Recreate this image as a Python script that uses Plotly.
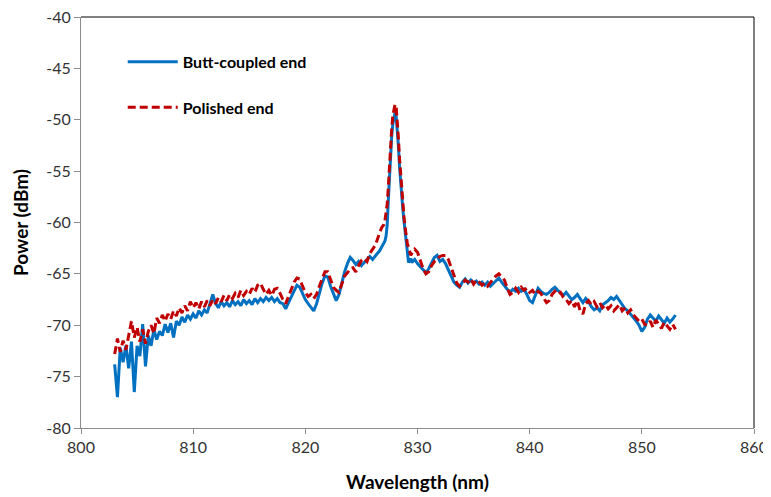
import plotly.graph_objects as go

# Wavelength grid (nm)
wl_a = [803.00, 803.25, 803.50, 803.75, 804.00, 804.25, 804.50, 804.75, 805.00, 805.25,
        805.50, 805.75, 806.00, 806.25, 806.50, 806.75, 807.00, 807.25, 807.50, 807.75,
        808.00, 808.25, 808.50, 808.75, 809.00, 809.25, 809.50, 809.75, 810.00, 810.25,
        810.50, 810.75, 811.00, 811.25, 811.50, 811.75, 812.00, 812.25, 812.50, 812.75,
        813.00, 813.25, 813.50, 813.75, 814.00, 814.25, 814.50, 814.75, 815.00, 815.25,
        815.50, 815.75, 816.00, 816.25, 816.50, 816.75, 817.00, 817.25, 817.50, 817.75,
        818.00, 818.25, 818.50, 818.75, 819.00, 819.25, 819.50, 819.75, 820.00, 820.25,
        820.50, 820.75, 821.00, 821.25, 821.50, 821.75, 822.00, 822.25, 822.50, 822.75,
        823.00, 823.25, 823.50, 823.75, 824.00, 824.25, 824.50, 824.75, 825.00, 825.25,
        825.50, 825.75, 826.00, 826.25, 826.50]
wl_b = [826.6, 826.7, 826.8, 826.9, 827.0, 827.1, 827.2, 827.3, 827.4, 827.5,
        827.6, 827.7, 827.8, 827.9, 828.0, 828.1, 828.2, 828.3, 828.4, 828.5,
        828.6, 828.7, 828.8, 828.9, 829.0, 829.1, 829.2, 829.3, 829.4, 829.5]
wl_c = [829.75, 830.00, 830.25, 830.50, 830.75, 831.00, 831.25, 831.50, 831.75, 832.00,
        832.25, 832.50, 832.75, 833.00, 833.25, 833.50, 833.75, 834.00, 834.25, 834.50,
        834.75, 835.00, 835.25, 835.50, 835.75, 836.00, 836.25, 836.50, 836.75, 837.00,
        837.25, 837.50, 837.75, 838.00, 838.25, 838.50, 838.75, 839.00, 839.25, 839.50,
        839.75, 840.00, 840.25, 840.50, 840.75, 841.00, 841.25, 841.50, 841.75, 842.00,
        842.25, 842.50, 842.75, 843.00, 843.25, 843.50, 843.75, 844.00, 844.25, 844.50,
        844.75, 845.00, 845.25, 845.50, 845.75, 846.00, 846.25, 846.50, 846.75, 847.00,
        847.25, 847.50, 847.75, 848.00, 848.25, 848.50, 848.75, 849.00, 849.25, 849.50,
        849.75, 850.00, 850.25, 850.50, 850.75, 851.00, 851.25, 851.50, 851.75, 852.00,
        852.25, 852.50, 852.75, 853.00]
wavelength = wl_a + wl_b + wl_c

# Butt-coupled end (dBm)
butt_a = [-73.8, -77.0, -72.2, -73.6, -72.0, -74.2, -71.6, -76.5, -72.0, -73.0,
          -69.9, -74.0, -71.0, -72.0, -70.4, -71.4, -70.6, -71.0, -69.9, -70.7,
          -69.8, -71.2, -69.6, -70.0, -69.2, -69.7, -69.0, -69.4, -68.9, -69.3,
          -68.6, -69.0, -68.5, -68.8, -67.9, -67.0, -67.9, -68.3, -67.7, -68.1,
          -67.8, -68.2, -67.6, -68.0, -67.7, -68.1, -67.5, -67.9, -67.6, -68.0,
          -67.4, -67.8, -67.4, -67.7, -67.3, -67.6, -67.3, -67.7, -67.4, -67.8,
          -67.9, -68.4, -67.8, -67.2, -66.6, -66.1, -66.3, -66.9, -67.5, -67.9,
          -68.3, -68.6, -67.9, -66.9, -65.9, -65.2, -65.3, -66.2, -67.0, -67.6,
          -67.0, -65.8, -64.8, -64.0, -63.4, -63.7, -64.1, -63.8, -64.2, -63.9,
          -63.6, -63.3, -63.6, -63.2, -62.9]
butt_b = [-62.8, -62.6, -62.4, -62.2, -62.0, -61.8, -61.3, -60.2, -57.8, -55.2,
          -53.2, -51.6, -50.4, -49.6, -49.3, -49.7, -50.9, -52.6, -54.6, -56.2,
          -57.6, -58.8, -59.9, -60.9, -62.2, -63.2, -63.9, -63.7, -63.5, -63.9]
butt_c = [-63.6, -64.0, -64.3, -64.7, -64.9, -64.5, -63.9, -63.4, -63.2, -63.8,
          -63.6, -64.0, -64.6, -65.2, -65.8, -66.1, -66.3, -65.8, -65.5, -65.9,
          -65.6, -65.9, -65.7, -66.0, -65.8, -66.1, -65.8, -66.2, -65.9, -65.7,
          -65.4, -65.8, -66.2, -66.5, -66.8, -66.5, -66.7, -66.4, -66.7, -66.5,
          -67.0, -67.6, -67.8, -67.0, -66.4, -66.7, -66.9, -67.0, -66.8, -66.5,
          -66.3, -66.6, -66.9, -67.1, -66.8, -67.2, -67.5, -67.3, -67.0, -67.4,
          -67.8, -67.4, -67.7, -68.2, -68.5, -68.3, -68.6, -68.0, -67.8, -67.6,
          -67.3, -67.5, -67.2, -67.6, -68.0, -68.4, -68.6, -68.9, -69.2, -69.6,
          -70.0, -70.6, -70.2, -69.4, -69.0, -69.3, -69.6, -69.1, -69.5, -69.8,
          -69.3, -69.7, -69.4, -69.0]
butt_coupled = butt_a + butt_b + butt_c

# Polished end (dBm)
pol_a = [-72.8, -71.3, -72.6, -71.5, -72.4, -70.8, -69.6, -71.2, -70.2, -71.6,
         -70.4, -71.8, -70.6, -70.0, -70.8, -69.3, -69.8, -69.0, -69.6, -68.9,
         -69.4, -68.6, -69.1, -68.3, -68.8, -68.1, -68.6, -67.7, -68.3, -67.8,
         -68.4, -67.7, -68.2, -67.6, -68.1, -67.5, -67.9, -67.3, -67.7, -67.1,
         -67.6, -67.0, -67.4, -66.9, -67.3, -66.6, -67.1, -66.7, -67.0, -66.4,
         -66.8, -66.1, -65.9, -66.5, -67.0, -66.6, -67.1, -66.5, -66.4, -66.9,
         -67.5, -67.9, -67.2, -66.4, -65.8, -65.4, -65.5, -66.2, -66.8, -67.2,
         -67.0, -67.4, -67.0, -66.2, -65.4, -64.8, -64.8, -65.6, -66.3, -66.6,
         -66.8, -66.0, -65.2, -64.9, -64.5, -64.4, -64.8, -64.2, -63.7, -63.5,
         -63.8, -63.0, -62.6, -62.2, -61.4]
pol_b = [-61.0, -60.8, -60.5, -60.3, -60.2, -59.8, -59.2, -58.2, -56.5, -54.4,
         -52.5, -50.9, -49.6, -48.8, -48.5, -48.8, -50.0, -51.8, -53.8, -55.5,
         -57.0, -58.3, -59.5, -60.5, -61.5, -62.1, -62.4, -62.8, -63.2, -63.0]
pol_c = [-62.6, -62.9, -63.8, -64.5, -65.0, -64.8, -64.2, -63.8, -63.6, -63.3,
         -63.2, -63.2, -63.6, -64.4, -65.3, -65.9, -66.2, -66.0, -65.6, -65.8,
         -65.5, -66.0, -65.6, -65.8, -66.1, -65.9, -66.2, -65.8, -65.5, -65.2,
         -65.0, -65.3, -65.6, -66.4, -67.0, -66.8, -66.4, -66.8, -66.3, -66.6,
         -66.4, -66.8, -66.6, -67.0, -66.7, -66.9, -67.4, -67.8, -67.6, -67.0,
         -66.7, -67.0, -66.8, -67.3, -67.5, -67.9, -67.6, -68.2, -67.6, -68.6,
         -68.9, -67.9, -67.6, -68.0, -67.7, -68.2, -67.8, -68.3, -68.0, -68.4,
         -68.1, -68.6, -68.3, -68.0, -68.6, -68.3, -68.8, -68.5, -69.0, -69.3,
         -69.6, -69.4, -69.9, -70.0, -69.6, -70.2, -69.5, -69.9, -70.3, -69.7,
         -70.1, -70.4, -69.9, -70.4]
polished = pol_a + pol_b + pol_c

x_ticks = [800, 810, 820, 830, 840, 850, 860]
y_ticks = [-80, -75, -70, -65, -60, -55, -50, -45, -40]

FONT = "Lato, 'Liberation Sans', sans-serif"

fig = go.Figure()
fig.add_trace(go.Scatter(
    x=wavelength, y=butt_coupled, mode="lines", name="Butt-coupled end",
    line=dict(color="#0070C0", width=3), legend="legend"))
fig.add_trace(go.Scatter(
    x=wavelength, y=polished, mode="lines", name="Polished end",
    line=dict(color="#C00000", width=3, dash="8px,4px"), legend="legend2"))

legend_style = dict(font=dict(family=FONT, size=16, color="#000000", weight="bold"),
                    bgcolor="rgba(0,0,0,0)", borderwidth=0, itemwidth=50,
                    xanchor="left", yanchor="middle", x=0.062)

# the page body adds an 8px offset; the figure is sized so the plot sits where the reference has it
fig.update_layout(
    width=763, height=489,
    margin=dict(l=73, r=17, t=9, b=69, autoexpand=False),
    paper_bgcolor="white", plot_bgcolor="white",
    font=dict(family=FONT, color="#333333"),
    showlegend=True,
    legend=dict(**legend_style, y=0.891),
    legend2=dict(**legend_style, y=0.78),
    xaxis=dict(range=[800, 860], tickvals=x_ticks, ticktext=[str(v) for v in x_ticks],
               automargin=False, ticklabeloverflow="allow",
               showgrid=False, zeroline=False, showline=True, linecolor="#8C8C8C",
               linewidth=1, ticks="outside", ticklen=5, tickcolor="#8C8C8C",
               tickfont=dict(size=16, color="#333333", family=FONT),
               title=dict(text="Wavelength (nm)", standoff=20,
                          font=dict(size=19, color="#000000", family=FONT, weight="bold"))),
    yaxis=dict(range=[-80, -40], tickvals=y_ticks, ticktext=[str(v) for v in y_ticks],
               automargin=False, ticklabeloverflow="allow",
               showgrid=False, zeroline=False, showline=True, linecolor="#8C8C8C",
               linewidth=1, ticks="outside", ticklen=6, tickcolor="#8C8C8C",
               tickfont=dict(size=16, color="#333333", family=FONT),
               title=dict(text="Power (dBm)", standoff=12,
                          font=dict(size=19, color="#000000", family=FONT, weight="bold"))),
    shapes=[
        dict(type="line", xref="paper", yref="paper", x0=0, x1=1, y0=1, y1=1,
             line=dict(color="#000000", width=1)),
        dict(type="line", xref="paper", yref="paper", x0=1, x1=1, y0=0, y1=1,
             line=dict(color="#000000", width=1)),
    ],
)

fig.write_html("out.html")
